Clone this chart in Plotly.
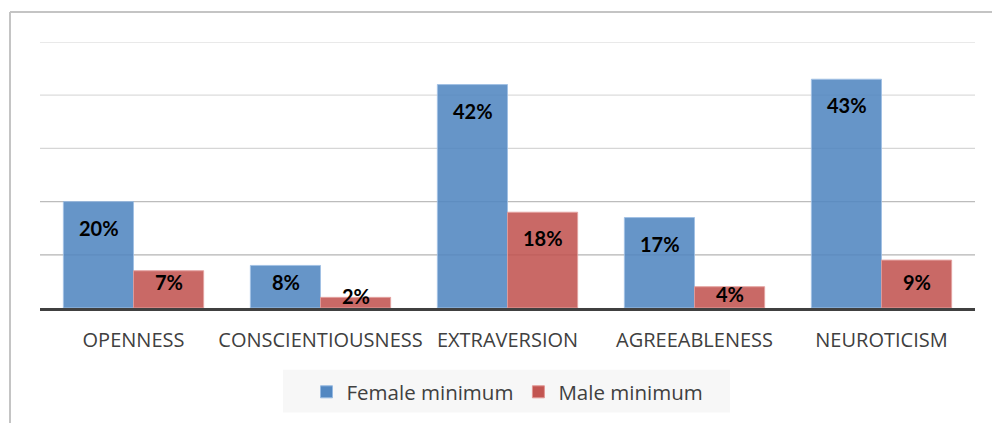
import plotly.graph_objects as go

# Big Five traits and minimum scores per group (percent)
traits = ["OPENNESS", "CONSCIENTIOUSNESS", "EXTRAVERSION", "AGREEABLENESS", "NEUROTICISM"]
female_min = [20, 8, 42, 17, 43]
male_min = [7, 2, 18, 4, 9]
series_names = ["Female minimum", "Male minimum"]

W, H = 992, 423
PL, PR, PT, PB = 40, 975, 42, 309          # plot area in pixels
Y_MAX = 50
Y_STEP = 10
px_per_unit = (PB - PT) / Y_MAX

BLUE = "rgb(82,135,193)"
RED = "rgb(194,85,81)"
FONT = "Lato"
TEXT_FONT = "Open Sans"


def px_x(px):
    return (px - PL) / (PR - PL)


def px_y(py):
    return (PB - py) / (PB - PT)


fig = go.Figure()
for name, vals, col, edge in [
    (series_names[0], female_min, BLUE, "rgb(150,185,225)"),
    (series_names[1], male_min, RED, "rgb(225,150,148)"),
]:
    fig.add_trace(go.Bar(
        x=traits, y=vals, name=name,
        marker=dict(color=col, opacity=0.88, line=dict(color=edge, width=1)),
        hoverinfo="skip",
    ))

# value labels near the top inside each bar
annotations = []
for vals, xs in [(female_min, -35), (male_min, 35)]:
    for cat, v in zip(traits, vals):
        h = v * px_per_unit
        if h >= 36:
            above = max(h - 26, 26)
        else:
            above = max(h - 7, 12)
        annotations.append(dict(
            x=cat, y=v, xref="x", yref="y", xshift=xs, yshift=above - h,
            text=f"<b>{v}%</b>", showarrow=False, yanchor="middle",
            font=dict(family=FONT, size=20, color="black"),
        ))

# horizontal gridlines, darker toward the baseline
grid_colors = {10: "#b4b4b4", 20: "#bcbcbc", 30: "#d6d6d6", 40: "#dcdcdc", 50: "#e2e2e2"}
shapes = []
for lvl in range(Y_STEP, Y_MAX + 1, Y_STEP):
    shapes.append(dict(
        type="line", xref="paper", yref="y", x0=0, x1=1, y0=lvl, y1=lvl,
        line=dict(color=grid_colors[lvl], width=1.3), layer="below",
    ))

shapes += [
    # legend background
    dict(type="rect", xref="paper", yref="paper",
         x0=px_x(283), x1=px_x(730), y0=px_y(414), y1=px_y(371),
         fillcolor="#f7f7f7", line=dict(width=0), layer="below"),
    # outer frame (left and top edges)
    dict(type="line", xref="paper", yref="paper",
         x0=px_x(10), x1=px_x(10), y0=px_y(12), y1=px_y(430),
         line=dict(color="#c4c4c4", width=2)),
    dict(type="line", xref="paper", yref="paper",
         x0=px_x(10), x1=px_x(1000), y0=px_y(12), y1=px_y(12),
         line=dict(color="#c4c4c4", width=2)),
]

fig.update_layout(
    width=W, height=H,
    margin=dict(l=PL, r=W - PR, t=PT, b=H - PB, pad=0),
    paper_bgcolor="white", plot_bgcolor="white",
    barmode="group", bargap=0.25, bargroupgap=0,
    font=dict(family=TEXT_FONT, color="#404040"),
    showlegend=True,
    legend=dict(
        orientation="h", x=0.5, xanchor="center",
        y=px_y(392), yanchor="middle",
        bgcolor="rgba(0,0,0,0)", font=dict(family=TEXT_FONT, size=20.5, color="#404040"),
        itemwidth=30, entrywidth=0,
    ),
    annotations=annotations,
    shapes=shapes,
)
fig.update_xaxes(
    showline=True, linecolor="#404040", linewidth=3,
    showgrid=False, ticks="", tickfont=dict(family=TEXT_FONT, size=20, color="#404040"),
    ticklabelstandoff=12,
)
fig.update_yaxes(
    range=[0, Y_MAX], dtick=Y_STEP, showgrid=False,
    showticklabels=False, zeroline=False, showline=False, ticks="",
)

fig.write_html("out.html")
